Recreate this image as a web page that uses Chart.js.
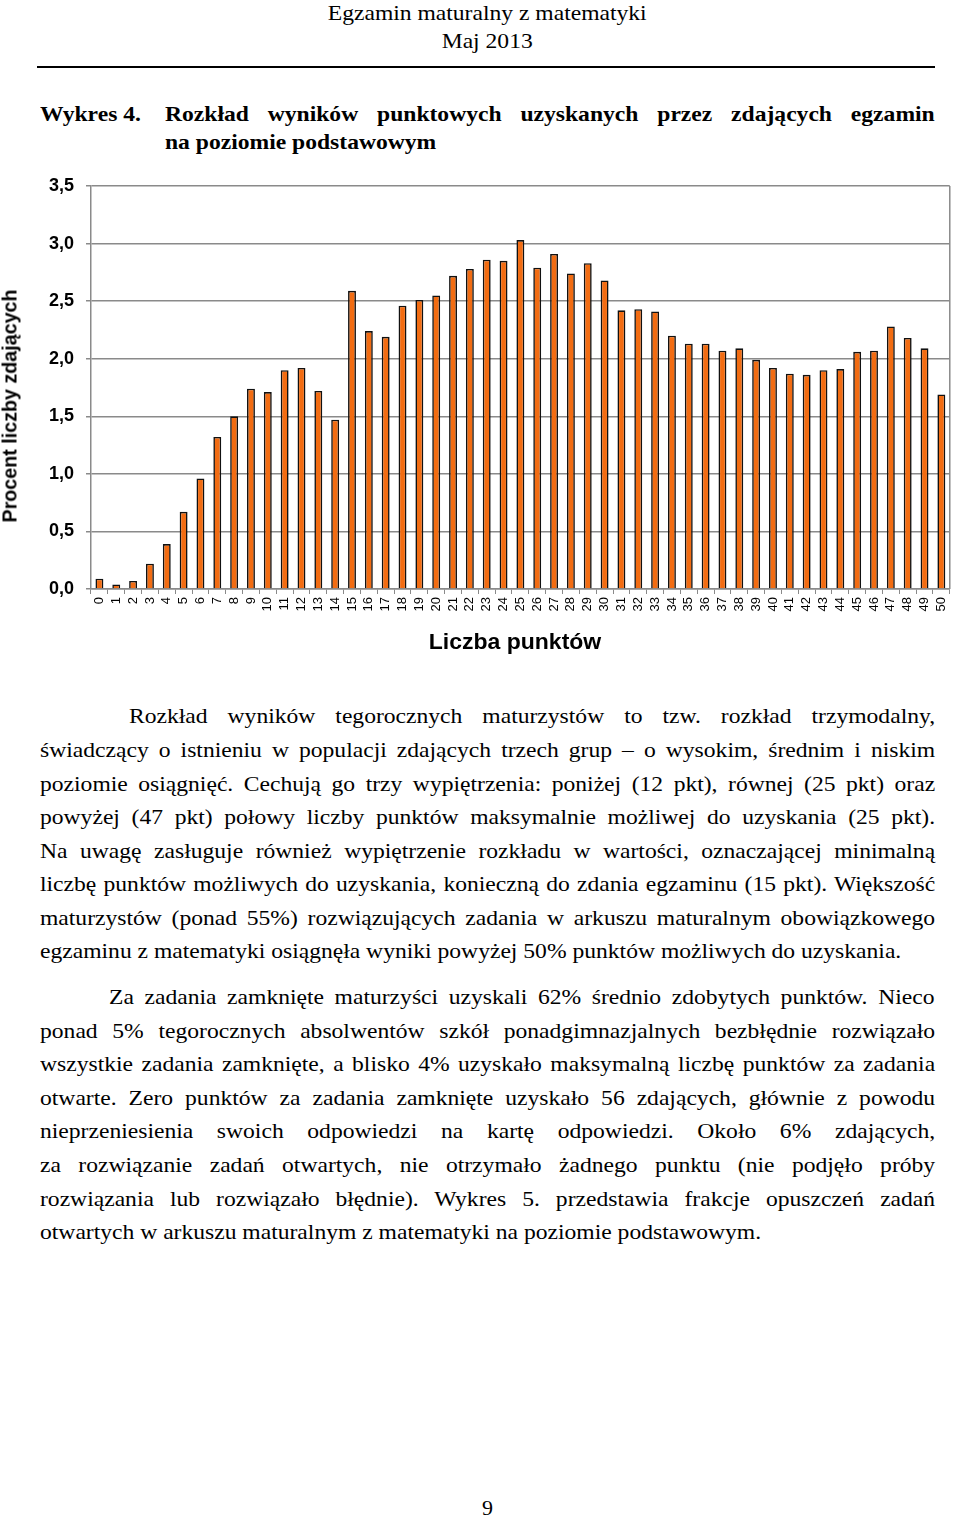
<!DOCTYPE html>
<html lang="pl">
<head>
<meta charset="utf-8">
<script src="https://cdn.jsdelivr.net/npm/chart.js@4.4.1/dist/chart.umd.min.js"></script>
<style>
  html, body { margin:0; padding:0; background:#fff; }
  body { width:960px; height:1518px; position:relative; overflow:hidden; font-family:"Liberation Serif","Times New Roman",serif; color:#000; }
  .abs { position:absolute; white-space:nowrap; }
  .sx { transform-origin:0 0; transform:scaleX(1.072); }
  .hdr { font-size:22px; line-height:26px; text-align:center; left:0; width:909px; }
  .rule { position:absolute; left:37px; width:898px; top:66px; height:2px; background:#000; }
  .ttl { font-weight:bold; font-size:22px; line-height:26px; }
  .ln { position:absolute; left:40px; width:835px; font-size:22px; line-height:24px; white-space:nowrap; text-align:justify; text-align-last:justify; transform-origin:0 0; transform:scaleX(1.072); }
  .ln.last { text-align:left; text-align-last:left; }
  .ln.ind1 { left:129px; width:752px; }
  .ln.ind2 { left:109px; width:770px; }
  #wrap { position:absolute; left:0; top:160px; width:960px; height:500px; }
  .axt { position:absolute; font-family:"Liberation Sans",Arial,sans-serif; font-weight:bold; white-space:nowrap; }
  #ytitle { left:10px; top:406px; font-size:19.7px; transform:translate(-50%,-50%) rotate(-90deg); }
  #xtitle { left:515px; top:642px; font-size:21.5px; transform:translate(-50%,-50%) scaleX(1.07); }
</style>
</head>
<body>
<div class="abs hdr sx" style="top:0px;">Egzamin maturalny z matematyki</div>
<div class="abs hdr sx" style="top:28px;">Maj 2013</div>
<div class="rule"></div>

<div class="abs ttl sx" style="left:40px; top:101px;">Wykres 4.</div>
<div class="abs ttl sx" style="left:165px; top:101px; width:718px; text-align:justify; text-align-last:justify;">Rozkład wyników punktowych uzyskanych przez zdających egzamin</div>
<div class="abs ttl sx" style="left:165px; top:129px;">na poziomie podstawowym</div>

<div id="wrap"><canvas id="c" width="960" height="500"></canvas></div>
<div id="ytitle" class="axt">Procent liczby zdających</div>
<div id="xtitle" class="axt">Liczba punktów</div>

<div class="ln ind1" style="top:704px;">Rozkład wyników tegorocznych maturzystów to tzw. rozkład trzymodalny,</div>
<div class="ln" style="top:738px;">świadczący o istnieniu w populacji zdających trzech grup – o wysokim, średnim i niskim</div>
<div class="ln" style="top:772px;">poziomie osiągnięć. Cechują go trzy wypiętrzenia: poniżej (12 pkt), równej (25 pkt) oraz</div>
<div class="ln" style="top:805px;">powyżej (47 pkt) połowy liczby punktów maksymalnie możliwej do uzyskania (25 pkt).</div>
<div class="ln" style="top:839px;">Na uwagę zasługuje również wypiętrzenie rozkładu w wartości, oznaczającej minimalną</div>
<div class="ln" style="top:872px;">liczbę punktów możliwych do uzyskania, konieczną do zdania egzaminu (15 pkt). Większość</div>
<div class="ln" style="top:906px;">maturzystów (ponad 55%) rozwiązujących zadania w arkuszu maturalnym obowiązkowego</div>
<div class="ln last" style="top:939px;">egzaminu z matematyki osiągnęła wyniki powyżej 50% punktów możliwych do uzyskania.</div>

<div class="ln ind2" style="top:985px;">Za zadania zamknięte maturzyści uzyskali 62% średnio zdobytych punktów. Nieco</div>
<div class="ln" style="top:1019px;">ponad 5% tegorocznych absolwentów szkół ponadgimnazjalnych bezbłędnie rozwiązało</div>
<div class="ln" style="top:1052px;">wszystkie zadania zamknięte, a blisko 4% uzyskało maksymalną liczbę punktów za zadania</div>
<div class="ln" style="top:1086px;">otwarte. Zero punktów za zadania zamknięte uzyskało 56 zdających, głównie z powodu</div>
<div class="ln" style="top:1119px;">nieprzeniesienia swoich odpowiedzi na kartę odpowiedzi. Około 6% zdających,</div>
<div class="ln" style="top:1153px;">za rozwiązanie zadań otwartych, nie otrzymało żadnego punktu (nie podjęło próby</div>
<div class="ln" style="top:1187px;">rozwiązania lub rozwiązało błędnie). Wykres 5. przedstawia frakcje opuszczeń zadań</div>
<div class="ln last" style="top:1220px;">otwartych w arkuszu maturalnym z matematyki na poziomie podstawowym.</div>

<div class="abs" style="left:0; width:975px; text-align:center; top:1495px; font-size:22px; line-height:26px;">9</div>

<script>
// ---- data ----
const points = ["0","1","2","3","4","5","6","7","8","9","10","11","12","13","14","15","16","17","18","19","20",
  "21","22","23","24","25","26","27","28","29","30","31","32","33","34","35","36","37","38","39","40",
  "41","42","43","44","45","46","47","48","49","50"];
const percentValues = [0.09,0.04,0.07,0.22,0.39,0.67,0.96,1.32,1.50,1.74,1.71,1.90,1.92,1.72,1.47,2.59,2.24,2.19,2.46,2.51,2.55,
  2.72,2.78,2.86,2.85,3.03,2.79,2.91,2.74,2.83,2.68,2.42,2.43,2.41,2.20,2.13,2.13,2.07,2.09,1.99,1.92,
  1.87,1.86,1.90,1.91,2.06,2.07,2.28,2.18,2.09,1.69];
const yTickValues = [0, 0.5, 1.0, 1.5, 2.0, 2.5, 3.0, 3.5];

const SANS = '"Liberation Sans", Arial, sans-serif';

const frame = {
  id: 'frame',
  afterDraw(chart) {
    const a = chart.chartArea, ctx = chart.ctx;
    ctx.save();
    ctx.strokeStyle = '#8a8a8a';
    ctx.lineWidth = 1.5;
    ctx.beginPath();
    ctx.moveTo(a.right, a.top);
    ctx.lineTo(a.right, a.bottom);
    ctx.stroke();
    ctx.restore();
  }
};

new Chart(document.getElementById('c'), {
  type: 'bar',
  data: {
    labels: points,
    datasets: [{
      data: percentValues,
      backgroundColor: '#F26C12',
      borderColor: '#111111',
      borderWidth: 1.6,
      borderSkipped: 'bottom',
      categoryPercentage: 1,
      barPercentage: 0.47
    }]
  },
  options: {
    responsive: false,
    devicePixelRatio: 1,
    animation: false,
    layout: { padding: { left: 0, right: 4, top: 26, bottom: 0 } },
    plugins: { legend: { display: false }, tooltip: { enabled: false } },
    scales: {
      x: {
        offset: true,
        grid: { offset: true, drawOnChartArea: false, drawTicks: true, tickLength: 5, color: '#8a8a8a', lineWidth: 1 },
        border: { color: '#8a8a8a', width: 1.5 },
        ticks: { autoSkip: false, minRotation: 90, maxRotation: 90, padding: 3, color: '#000',
                 font: { family: SANS, size: 13 } },
        title: { display: false },
        afterFit(s) { s.height = 71; }
      },
      y: {
        min: 0, max: 3.5,
        afterBuildTicks(s) { s.ticks = yTickValues.map(v => ({ value: v })); },
        ticks: { padding: 12, color: '#000', font: { family: SANS, size: 18, weight: 'bold' },
                 callback: v => Number(v).toFixed(1).replace('.', ',') },
        grid: { color: '#8a8a8a', lineWidth: 1.5, tickLength: 5, drawTicks: true },
        border: { color: '#8a8a8a', width: 1.5 },
        afterFit(s) { s.width = 91; }
      }
    }
  },
  plugins: [frame]
});
</script>
</body>
</html>
